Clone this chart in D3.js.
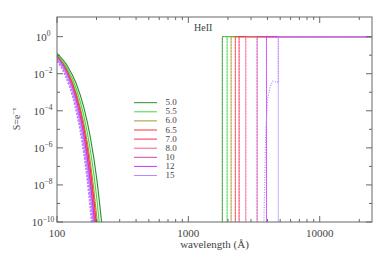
<!DOCTYPE html>
<html><head><meta charset="utf-8">
<script src="https://cdn.jsdelivr.net/npm/d3@7"></script>
<style>body{margin:0;background:#fff}svg text{font-family:"Liberation Serif",serif;fill:#444}</style>
</head><body><svg id="c" width="389" height="259"></svg>
<script>
// ---- data ----
const temps = ["5.0","5.5","6.0","6.5","7.0","8.0","10","12","15"];
const colors = ["#2e8b2e","#3ddd3d","#9a9a30","#ff3333","#ff2a55","#ff5c8a","#cc44aa","#cc33ff","#bb88ff"];
// short-wavelength tail: wavelengths (Å) and log10(S) per temperature
const wlTail = [100,120,140,160,180,200,220];
const logS_50 = [-0.90,-1.58,-2.53,-3.82,-5.49,-7.59,-10.19];
const logS_55 = [-0.97,-1.72,-2.80,-4.26,-6.18,-8.61,-11.63];
const logS_60 = [-1.02,-1.84,-3.03,-4.67,-6.83,-9.60,-13.08];
const logS_65 = [-1.05,-1.91,-3.17,-4.91,-7.23,-10.22,-13.9];
const logS_70 = [-1.07,-1.96,-3.26,-5.06,-7.47,-10.59,-14.3];
const logS_80 = [-1.09,-2.00,-3.34,-5.22,-7.72,-10.97,-14.8];
const logS_10 = [-1.11,-2.04,-3.42,-5.35,-7.94,-11.30,-15.3];
const logS_12 = [-1.13,-2.09,-3.51,-5.49,-8.17,-11.64,-15.8];
const logS_15 = [-1.15,-2.14,-3.61,-5.69,-8.50,-12.17,-16.5];
const tails = [logS_50,logS_55,logS_60,logS_65,logS_70,logS_80,logS_10,logS_12,logS_15];
// HeII edge wavelengths (Å) where S jumps to 1
const edgeWl = [1814,1973,2116,2278,2434,2737,3336,3933,4836];
// dotted 15 bump near the edge
const bumpWl = [3751,3760,3885,4024,4241,4392,4751,4836,4836,26000];
const bumpLogS = [-11,-10,-5,-3.3,-2.6,-2.4,-2.45,-2.5,0,0];
const yMajor = [0,-2,-4,-6,-8,-10];
const yMinor = [-1,-3,-5,-7,-9];
const xMajor = [100,1000,10000];
const xMinor = [200,300,400,500,600,700,800,900,2000,3000,4000,5000,6000,7000,8000,9000,20000];

// ---- layout ----
const L=57,R=372,T=17,B=222;
const svg=d3.select("#c");
const x=d3.scaleLog().domain([100,25000]).range([L,R]);
const y=d3.scaleLog().domain([1e-10,Math.pow(10,1.06)]).range([B,T]);
const P=v=>Math.pow(10,v);

svg.append("defs").append("clipPath").attr("id","clip").append("rect")
  .attr("x",L).attr("y",T).attr("width",R-L).attr("height",B-T);
const g=svg.append("g").attr("clip-path","url(#clip)");
const line=d3.line().x(d=>x(d[0])).y(d=>y(P(d[1]))).curve(d3.curveMonotoneX);
const lineLin=d3.line().x(d=>x(d[0])).y(d=>y(P(d[1])));

temps.forEach((t,i)=>{
  const pts=wlTail.map((w,j)=>[w,tails[i][j]]);
  g.append("path").attr("d",line(pts)).attr("fill","none").attr("stroke",colors[i]).attr("stroke-width",1.1);
  if(i>=7) g.append("path").attr("d",line(pts)).attr("fill","none").attr("stroke",colors[i])
    .attr("stroke-width",3).attr("stroke-dasharray","2,1.5").attr("transform","translate(-1,0)");
  const step=[[edgeWl[i],-11],[edgeWl[i],0],[26000,0]];
  g.append("path").attr("d",lineLin(step)).attr("fill","none").attr("stroke",colors[i]).attr("stroke-width",1).attr("stroke-opacity",0.7);
  if(i<8) g.append("path").attr("d",lineLin(step)).attr("fill","none").attr("stroke",colors[i]).attr("stroke-width",1).attr("stroke-dasharray","1,2");
});
g.append("path").attr("d",lineLin(bumpWl.map((w,j)=>[w,bumpLogS[j]]))).attr("fill","none")
  .attr("stroke",colors[8]).attr("stroke-width",1.2).attr("stroke-dasharray","1,1.5");

// ---- frame & ticks ----
const ax="#666";
svg.append("rect").attr("x",L).attr("y",T).attr("width",R-L).attr("height",B-T).attr("fill","none").attr("stroke",ax);
const tk=svg.append("g").attr("stroke",ax);
yMajor.concat(yMinor).forEach(e=>{
  const len=yMajor.includes(e)?6:3, yy=y(P(e));
  tk.append("line").attr("x1",L).attr("x2",L+len).attr("y1",yy).attr("y2",yy);
  tk.append("line").attr("x1",R).attr("x2",R-len).attr("y1",yy).attr("y2",yy);
});
xMajor.concat(xMinor).forEach(w=>{
  const len=xMajor.includes(w)?6:3, xx=x(w);
  tk.append("line").attr("x1",xx).attr("x2",xx).attr("y1",B).attr("y2",B-len);
  tk.append("line").attr("x1",xx).attr("x2",xx).attr("y1",T).attr("y2",T+len);
});
yMajor.forEach(e=>{
  const t=svg.append("text").attr("x",43).attr("y",y(P(e))+4).attr("text-anchor","middle").attr("font-size",11);
  t.append("tspan").text("10");
  t.append("tspan").attr("dy",-4.5).attr("font-size",7.5).text(e===0?"0":"\u2212"+(-e));
});
xMajor.forEach(w=>{
  svg.append("text").attr("x",x(w)).attr("y",237).attr("text-anchor","middle").attr("font-size",11).text(w);
});
svg.append("text").attr("x",(L+R)/2).attr("y",248).attr("text-anchor","middle").attr("font-size",11).text("wavelength (Å)");
const yl=svg.append("text").attr("transform","translate(20,119) rotate(-90)").attr("text-anchor","middle").attr("font-size",10);
yl.append("tspan").text("S=e");
yl.append("tspan").attr("dy",-4).attr("font-size",7).text("\u2212\u03c4");
svg.append("text").attr("x",194).attr("y",31).attr("font-size",10).text("HeII");

// ---- legend ----
temps.forEach((t,i)=>{
  const ly=102.7+i*9.1;
  svg.append("line").attr("x1",134).attr("x2",157).attr("y1",ly).attr("y2",ly).attr("stroke",colors[i]).attr("stroke-width",1);
  svg.append("text").attr("x",165.5).attr("y",ly+2.5).attr("font-size",9).text(t);
});
</script></body></html>
